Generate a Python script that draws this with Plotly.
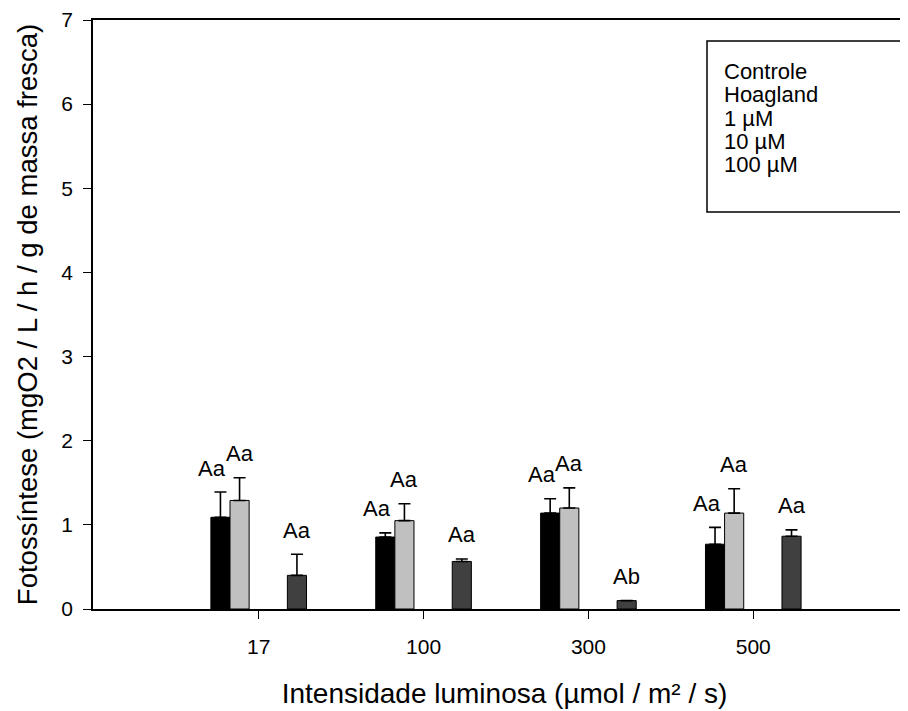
import plotly.graph_objects as go

# ---- data ----
groups = ["17", "100", "300", "500"]
series_names = ["Controle", "Hoagland", "1 µM", "10 µM", "100 µM"]
series_colors = ["#000000", "#c0c0c0", "#ffffff", "#ffffff", "#404040"]

controle = [1.09, 0.855, 1.14, 0.77]
hoagland = [1.29, 1.05, 1.20, 1.14]
um1 = [None, None, None, None]
um10 = [None, None, None, None]
um100 = [0.40, 0.565, 0.10, 0.865]

controle_err = [0.30, 0.05, 0.17, 0.20]
hoagland_err = [0.27, 0.20, 0.24, 0.29]
um1_err = [None, None, None, None]
um10_err = [None, None, None, None]
um100_err = [0.25, 0.03, 0.00, 0.075]

controle_lbl = ["Aa", "Aa", "Aa", "Aa"]
hoagland_lbl = ["Aa", "Aa", "Aa", "Aa"]
um100_lbl = ["Aa", "Aa", "Ab", "Aa"]

values = [controle, hoagland, um1, um10, um100]
errors = [controle_err, hoagland_err, um1_err, um10_err, um100_err]
labels = [controle_lbl, hoagland_lbl, None, None, um100_lbl]

FONT = "Liberation Sans, Arial, sans-serif"
W = 0.116  # bar slot width in axis units
xs = list(range(len(groups)))

fig = go.Figure()
for i, name in enumerate(series_names):
    off = (i - 2) * W
    fig.add_trace(go.Bar(
        x=[x + off for x in xs],
        y=values[i],
        width=W,
        name=name,
        marker=dict(color=series_colors[i], line=dict(color="black", width=1)),
        error_y=dict(type="data", array=errors[i],
                     arrayminus=[0] * len(groups), symmetric=False,
                     color="black", thickness=1.6, width=6),
        showlegend=False,
    ))

# significance letters above the bars
for i in range(len(series_names)):
    if labels[i] is None:
        continue
    off = (i - 2) * W
    for j, x in enumerate(xs):
        v = values[i][j]
        e = errors[i][j] or 0
        fig.add_annotation(
            x=x + off, y=v + e, text=labels[i][j], showarrow=False,
            xref="x", yref="y", yanchor="middle",
            yshift=24, xshift=-8 if i == 0 else 0,
            font=dict(family=FONT, size=22, color="black"),
        )

# page offset (body margin) and plot-area geometry in page pixels
OFF = 8
L, T, B, R = 93, 17, 609, 908 + OFF
PW, PH = R - L, B - T

# legend box (text only, as in the reference)
fig.add_shape(type="rect", xref="paper", yref="paper",
              x0=(707 - L) / PW, x1=(906 - L) / PW,
              y0=(B - 210) / PH, y1=(B - 38) / PH,
              line=dict(color="black", width=1.5), fillcolor="white")
for k, name in enumerate(series_names):
    fig.add_annotation(
        x=(722 - L) / PW, y=(B - (69 + 23.3 * k)) / PH,
        xref="paper", yref="paper", xanchor="left", yanchor="middle",
        text=name, showarrow=False,
        font=dict(family=FONT, size=22, color="black"),
    )

fig.update_layout(
    width=908, height=711,
    margin=dict(l=L - OFF, r=0, t=T - OFF, b=711 - (B - OFF)),
    plot_bgcolor="white", paper_bgcolor="white",
    barmode="overlay",
    font=dict(family=FONT, color="black"),
    xaxis=dict(
        range=[-1.005, 3.987],
        tickmode="array", tickvals=xs, ticktext=groups,
        ticks="outside", ticklen=8, tickwidth=1, tickcolor="black",
        showline=True, linecolor="black", linewidth=2, mirror=True,
        showgrid=False, zeroline=False,
        tickfont=dict(family=FONT, size=21),
        ticklabelstandoff=10,
        title=dict(text="Intensidade luminosa (µmol / m² / s)",
                   font=dict(family=FONT, size=28), standoff=26),
    ),
    yaxis=dict(
        range=[0, 7], dtick=1,
        ticks="outside", ticklen=8, tickwidth=1, tickcolor="black",
        showline=True, linecolor="black", linewidth=1.5,
        showgrid=False, zeroline=False,
        tickfont=dict(family=FONT, size=21),
        ticklabelstandoff=6,
        ticklabeloverflow="allow",
        title=dict(text="Fotossíntese (mgO2 / L / h / g de massa fresca)",
                   font=dict(family=FONT, size=27.5), standoff=16),
    ),
)

fig.write_html("out.html")
